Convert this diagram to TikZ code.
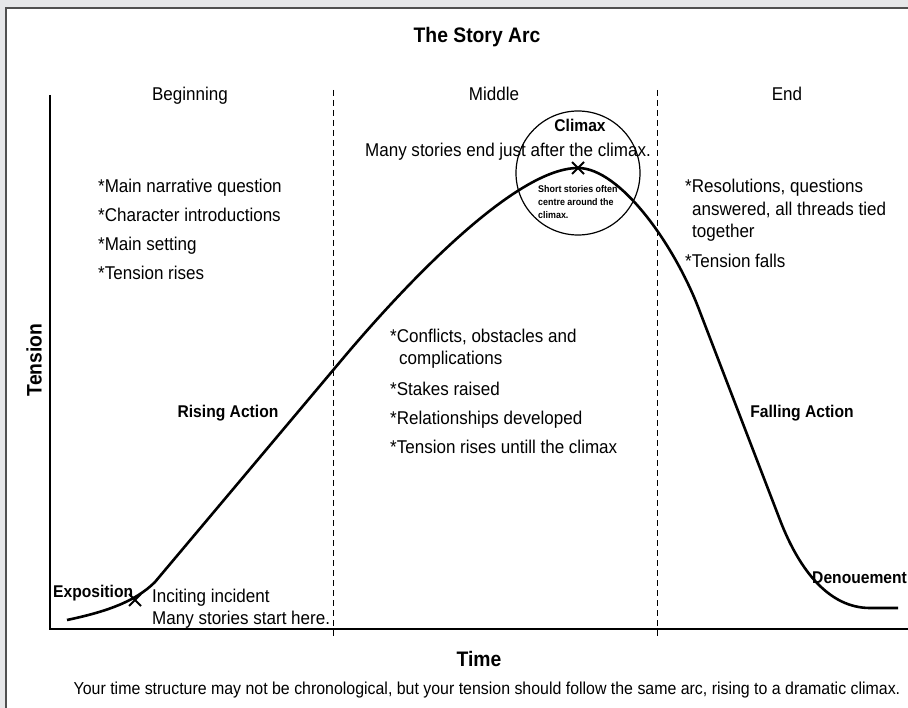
\documentclass[tikz,border=0pt]{standalone}
\usepackage{fontspec}
\setmainfont{Liberation Sans}[FakeStretch=0.92]
\usetikzlibrary{positioning}

\definecolor{pagegray}{RGB}{230,231,233}
\definecolor{rimgray}{RGB}{80,80,80}

\tikzset{
  body/.style = {inner sep=0pt, font=\fontsize{18.5}{20}\selectfont},
  tag/.style  = {inner sep=0pt, font=\bfseries\fontsize{17}{19}\selectfont},
  head/.style = {inner sep=0pt, font=\bfseries\fontsize{21}{24}\selectfont},
  note/.style = {inner sep=0pt, font=\bfseries\fontsize{9.7}{11}\selectfont},
  foot/.style = {inner sep=0pt, font=\fontsize{17.3}{19}\selectfont},
  axis/.style = {line width=1.4pt},
  divider/.style = {line width=1pt, dash pattern=on 6pt off 4pt},
  arcline/.style = {line width=2.6pt, line join=round},
  xmark/.style = {line width=2pt},
}

\begin{document}
\begin{tikzpicture}[x=1pt, y=-1pt]
    \useasboundingbox (0,0) rectangle (908,708);
    % page and frame
    \fill[pagegray] (0,0) rectangle (908,708);
    \fill[white] (6,8) rectangle (908,708);
    \draw[rimgray, line width=2pt] (6,708) -- (6,8) -- (908,8);

    \node (title) [head, anchor=base] at (477,43) {The Story Arc};

    % axes
    \coordinate (ytop) at (50,95);
    \coordinate (origin) at (50,629);
    \coordinate (xend) at (908,629);
    \draw[axis] (ytop) -- (origin) -- (xend);
    \node (tension) [head, rotate=90] at (34,360) {Tension};
    \node (time) [head, anchor=base] at (479,666) {Time};
    \node (footer) [foot, anchor=base] at (487,694) {Your time structure may not be chronological, but your tension should follow the same arc, rising to a dramatic climax.};

    % acts
    \draw[divider] (333,90) -- (333,636);
    \draw[divider] (657,90) -- (657,636);
    \node (beg) [body, anchor=base] at (190,101) {Beginning};
    \node (mid) [body, anchor=base] at (494,101) {Middle};
    \node (end) [body, anchor=base] at (787,101) {End};

    % the arc
    \coordinate (start) at (67,620);
    \coordinate (incite) at (135,600);
    \coordinate (peak) at (578,168);
    \draw[arcline] (start) .. controls (105,612) and (135,602) .. (155,582)
        -- (345,356) .. controls (405,285) and (515,168) .. (peak)
        .. controls (620,168) and (675,245) .. (700,312)
        -- (780,520) .. controls (800,572) and (830,608) .. (870,608)
        -- (898,608);

    \draw[xmark] ([shift={(-6,-6)}]incite) -- ([shift={(6,6)}]incite);
    \draw[xmark] ([shift={(-6,6)}]incite) -- ([shift={(6,-6)}]incite);
    \draw[xmark] ([shift={(-6,-6)}]peak) -- ([shift={(6,6)}]peak);
    \draw[xmark] ([shift={(-6,6)}]peak) -- ([shift={(6,-6)}]peak);

    % climax circle
    \draw[line width=1.2pt] (578,173) circle [radius=62];
    \node (climax) [tag, anchor=base] at (580,132) {Climax};
    \node (endhere) [body, anchor=base] at (508,157) {Many stories end just after the climax.};
    \node (n1) [note, anchor=base west] at (538,193) {Short stories often};
    \node (n2) [note, below=13pt of n1.base west, anchor=base west] {centre around the};
    \node (n3) [note, below=13pt of n2.base west, anchor=base west] {climax.};

    % beginning
    \node (b1) [body, anchor=base west] at (98,193) {*Main narrative question};
    \node (b2) [body, below=29pt of b1.base west, anchor=base west] {*Character introductions};
    \node (b3) [body, below=29pt of b2.base west, anchor=base west] {*Main setting};
    \node (b4) [body, below=29pt of b3.base west, anchor=base west] {*Tension rises};

    % middle
    \node (m1) [body, anchor=base west] at (390,343) {*Conflicts, obstacles and};
    \node (m2) [body, below right=22pt and 9pt of m1.base west, anchor=base west] {complications};
    \node (m3) [body, anchor=base west] at (390,396) {*Stakes raised};
    \node (m4) [body, below=29pt of m3.base west, anchor=base west] {*Relationships developed};
    \node (m5) [body, below=29pt of m4.base west, anchor=base west] {*Tension rises untill the climax};

    % end
    \node (e1) [body, anchor=base west] at (685,193) {*Resolutions, questions};
    \node (e2) [body, below right=22.5pt and 7pt of e1.base west, anchor=base west] {answered, all threads tied};
    \node (e3) [body, below=22.5pt of e2.base west, anchor=base west] {together};
    \node (e4) [body, anchor=base west] at (685,268) {*Tension falls};

    % stages
    \node (expo) [tag, anchor=base west] at (53,597) {Exposition};
    \node (inc1) [body, anchor=base west] at (152,602) {Inciting incident};
    \node (inc2) [body, below=22pt of inc1.base west, anchor=base west] {Many stories start here.};
    \node (rising) [tag, anchor=base] at (228,418) {Rising Action};
    \node (falling) [tag, anchor=base] at (802,418) {Falling Action};
    \node (denoue) [tag, anchor=base west] at (812,583) {Denouement};
\end{tikzpicture}
\end{document}
